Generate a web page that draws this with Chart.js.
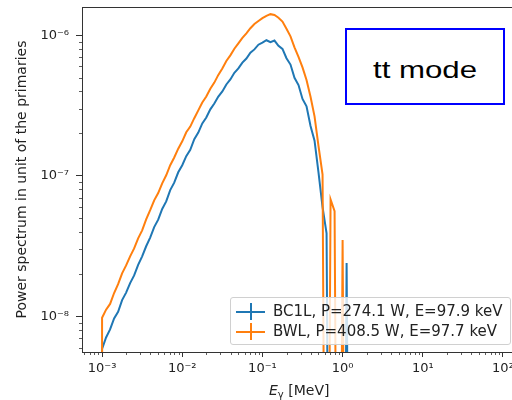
<!DOCTYPE html>
<html>
<head>
<meta charset="utf-8">
<script src="https://cdn.jsdelivr.net/npm/chart.js@4.4.1/dist/chart.umd.min.js"></script>
<style>
html, body { margin: 0; padding: 0; background: #fff; overflow: hidden; width: 512px; height: 400px; }
#wrap { position: relative; width: 540px; height: 400px; }
#chart { position: absolute; left: 0; top: 0; }
#xlabel { position: absolute; left: 269px; top: 382px; font: 14px "DejaVu Sans"; color: #222; white-space: nowrap; }
#xlabel sub { font-size: 10px; vertical-align: -3px; }
#legend { position: absolute; left: 230px; top: 297px; width: 281px; height: 48px; box-sizing: border-box;
  border: 1px solid #d0d0d0; border-radius: 3px; background: rgba(255,255,255,0.8);
  font: 15px "DejaVu Sans"; color: #222; padding-top: 4px; }
.row { position: relative; height: 20px; white-space: nowrap; }
.row .h { position: absolute; left: 5px; top: 9px; width: 29px; height: 2px; }
.row .v { position: absolute; left: 19px; top: 1px; width: 2px; height: 17px; }
.row .t { position: absolute; left: 42px; top: 0px; }
#tag { position: absolute; left: 345px; top: 28px; width: 160px; height: 77px; box-sizing: border-box;
  border: 2px solid #0000ff; background: #fff; display: flex; align-items: center; justify-content: center; padding-top: 6px; }
#tag span { display: inline-block; font: 24px "Liberation Sans"; color: #000; transform: scaleX(1.3); }
</style>
</head>
<body>
<div id="wrap">
  <canvas id="chart" width="540" height="400"></canvas>
  <div id="xlabel"><i>E</i><sub>γ</sub> [MeV]</div>
  <div id="legend"></div>
  <div id="tag"><span>tt mode</span></div>
</div>
<script>
// histogram bin lower edges [MeV], 0.05 decade wide
const energyEdges = [
  0.001000, 0.001122, 0.001259, 0.001413, 0.001585, 0.001778, 0.001995, 0.002239, 0.002512, 0.002818,
  0.003162, 0.003548, 0.003981, 0.004467, 0.005012, 0.005623, 0.006310, 0.007079, 0.007943, 0.008913,
  0.01000, 0.01122, 0.01259, 0.01413, 0.01585, 0.01778, 0.01995, 0.02239, 0.02512, 0.02818,
  0.03162, 0.03548, 0.03981, 0.04467, 0.05012, 0.05623, 0.06310, 0.07079, 0.07943, 0.08913,
  0.1000, 0.1122, 0.1259, 0.1413, 0.1585, 0.1778, 0.1995, 0.2239, 0.2512, 0.2818,
  0.3162, 0.3548, 0.3981, 0.4467, 0.5012, 0.5623, 0.6310, 0.7079, 0.7943, 0.8913,
  1.000, 1.122, 1.259
];
const bc1lValues = [
  5.9e-9, 7.1e-9, 8.1e-9, 9.7e-9, 1.08e-8, 1.31e-8, 1.48e-8, 1.73e-8, 1.96e-8, 2.33e-8,
  2.68e-8, 3.16e-8, 3.64e-8, 4.32e-8, 4.88e-8, 5.82e-8, 6.58e-8, 7.92e-8, 8.95e-8, 1.06e-7,
  1.19e-7, 1.38e-7, 1.53e-7, 1.82e-7, 2.03e-7, 2.36e-7, 2.60e-7, 2.97e-7, 3.27e-7, 3.66e-7,
  3.98e-7, 4.46e-7, 4.84e-7, 5.40e-7, 5.80e-7, 6.38e-7, 6.82e-7, 7.50e-7, 7.92e-7, 8.55e-7,
  8.85e-7, 9.20e-7, 8.90e-7, 9.15e-7, 8.40e-7, 7.98e-7, 6.85e-7, 6.18e-7, 4.98e-7, 4.42e-7,
  3.52e-7, 3.12e-7, 2.26e-7, 1.78e-7, 1.05e-7, 6.0e-8, 3.9e-8, 0, 0, 0,
  0, 2.4e-8, 0
];
const bwlValues = [
  9.8e-9, 1.12e-8, 1.23e-8, 1.47e-8, 1.70e-8, 2.03e-8, 2.31e-8, 2.68e-8, 3.05e-8, 3.60e-8,
  4.10e-8, 4.90e-8, 5.70e-8, 6.70e-8, 7.55e-8, 8.85e-8, 1.01e-7, 1.19e-7, 1.35e-7, 1.56e-7,
  1.76e-7, 2.04e-7, 2.24e-7, 2.57e-7, 2.92e-7, 3.32e-7, 3.66e-7, 4.16e-7, 4.60e-7, 5.22e-7,
  5.80e-7, 6.56e-7, 7.18e-7, 8.00e-7, 8.75e-7, 9.55e-7, 1.03e-6, 1.12e-6, 1.20e-6, 1.26e-6,
  1.32e-6, 1.37e-6, 1.41e-6, 1.39e-6, 1.33e-6, 1.25e-6, 1.11e-6, 9.8e-7, 8.2e-7, 7.0e-7,
  5.9e-7, 4.8e-7, 3.65e-7, 2.65e-7, 1.62e-7, 1.02e-7, 0, 6.8e-8, 5.6e-8, 0,
  3.5e-8, 0, 0
];
const seriesNames = ['BC1L, P=274.1 W, E=97.9 keV', 'BWL, P=408.5 W, E=97.7 keV'];
const seriesColors = ['#1f77b4', '#ff7f0e'];
const xTicks = [1e-3, 1e-2, 1e-1, 1, 10, 100];
const xTickLabels = ['10⁻³', '10⁻²', '10⁻¹', '10⁰', '10¹', '10²'];
const yTicks = [1e-8, 1e-7, 1e-6];
const yTickLabels = ['10⁻⁸', '10⁻⁷', '10⁻⁶'];
const xRange = [5.62e-4, 177.8];
const yRange = [5.6e-9, 1.585e-6];
// empty bins go off the bottom of a log axis
const emptyBin = 1e-12;

function histPoints(vals) {
  const pts = [{x: energyEdges[0], y: emptyBin}];
  vals.forEach((v, i) => pts.push({x: energyEdges[i], y: v > 0 ? v : emptyBin}));
  return pts;
}

const axisColor = '#333';
const textColor = '#222';

// minor log ticks + top spine
const frame = {
  id: 'frame',
  afterDraw(chart) {
    const ctx = chart.ctx, a = chart.chartArea;
    ctx.save();
    ctx.strokeStyle = axisColor;
    ctx.lineWidth = 1;
    ctx.beginPath();
    ctx.moveTo(a.left, a.top + 0.5);
    ctx.lineTo(a.right, a.top + 0.5);
    ctx.stroke();
    ctx.lineWidth = 0.8;
    ctx.beginPath();
    const xs = chart.scales.x, ys = chart.scales.y;
    for (let e = -4; e <= 2; e++) {
      for (let m = 2; m <= 9; m++) {
        const v = m * Math.pow(10, e);
        if (v > xs.min && v < xs.max) {
          const px = Math.round(xs.getPixelForValue(v)) + 0.5;
          ctx.moveTo(px, a.bottom);
          ctx.lineTo(px, a.bottom + 3);
        }
      }
    }
    for (let e = -9; e <= -5; e++) {
      for (let m = 2; m <= 9; m++) {
        const v = m * Math.pow(10, e);
        if (v > ys.min && v < ys.max) {
          const py = Math.round(ys.getPixelForValue(v)) + 0.5;
          ctx.moveTo(a.left - 3, py);
          ctx.lineTo(a.left, py);
        }
      }
    }
    ctx.stroke();
    ctx.restore();
  }
};

const ctx = document.getElementById('chart').getContext('2d');
const chart = new Chart(ctx, {
  type: 'line',
  data: {
    datasets: [
      {
        label: seriesNames[0],
        data: histPoints(bc1lValues),
        borderColor: seriesColors[0],
        borderWidth: 2,
        pointRadius: 0,
        order: 1
      },
      {
        label: seriesNames[1],
        data: histPoints(bwlValues),
        borderColor: seriesColors[1],
        borderWidth: 2,
        pointRadius: 0,
        order: 0
      }
    ]
  },
  options: {
    responsive: false,
    animation: false,
    layout: { padding: { top: 7, right: 17, left: 0, bottom: 0 } },
    plugins: { legend: { display: false }, tooltip: { enabled: false } },
    scales: {
      x: {
        type: 'logarithmic',
        min: xRange[0],
        max: xRange[1],
        afterBuildTicks: s => { s.ticks = xTicks.map(v => ({ value: v })); },
        afterFit: s => { s.height = 48; s.paddingLeft = 0; s.paddingRight = 0; },
        grid: { drawOnChartArea: false, tickLength: 5, tickColor: axisColor },
        border: { color: axisColor, width: 1 },
        ticks: {
          autoSkip: false, maxRotation: 0, padding: 4,
          color: textColor, font: { family: 'DejaVu Sans', size: 13 },
          callback: (v, i) => xTickLabels[i]
        }
      },
      y: {
        type: 'logarithmic',
        min: yRange[0],
        max: yRange[1],
        afterBuildTicks: s => { s.ticks = yTicks.map(v => ({ value: v })); },
        afterFit: s => { s.width = 82; s.paddingTop = 0; s.paddingBottom = 0; },
        grid: { drawOnChartArea: false, tickLength: 6, tickColor: axisColor },
        border: { color: axisColor, width: 1 },
        ticks: {
          autoSkip: false, padding: 7,
          color: textColor, font: { family: 'DejaVu Sans', size: 13 },
          callback: (v, i) => yTickLabels[i]
        },
        title: {
          display: true,
          text: 'Power spectrum in unit of the primaries',
          color: textColor,
          font: { family: 'DejaVu Sans', size: 14 },
          padding: { top: 14, bottom: 0 }
        }
      }
    }
  },
  plugins: [frame]
});

// legend built from the series names and colours
const leg = document.getElementById('legend');
seriesNames.forEach((name, i) => {
  const row = document.createElement('div');
  row.className = 'row';
  row.innerHTML = '<div class="h" style="background:' + seriesColors[i] + '"></div>' +
    '<div class="v" style="background:' + seriesColors[i] + '"></div>' +
    '<div class="t">' + name + '</div>';
  leg.appendChild(row);
});
</script>
</body>
</html>
